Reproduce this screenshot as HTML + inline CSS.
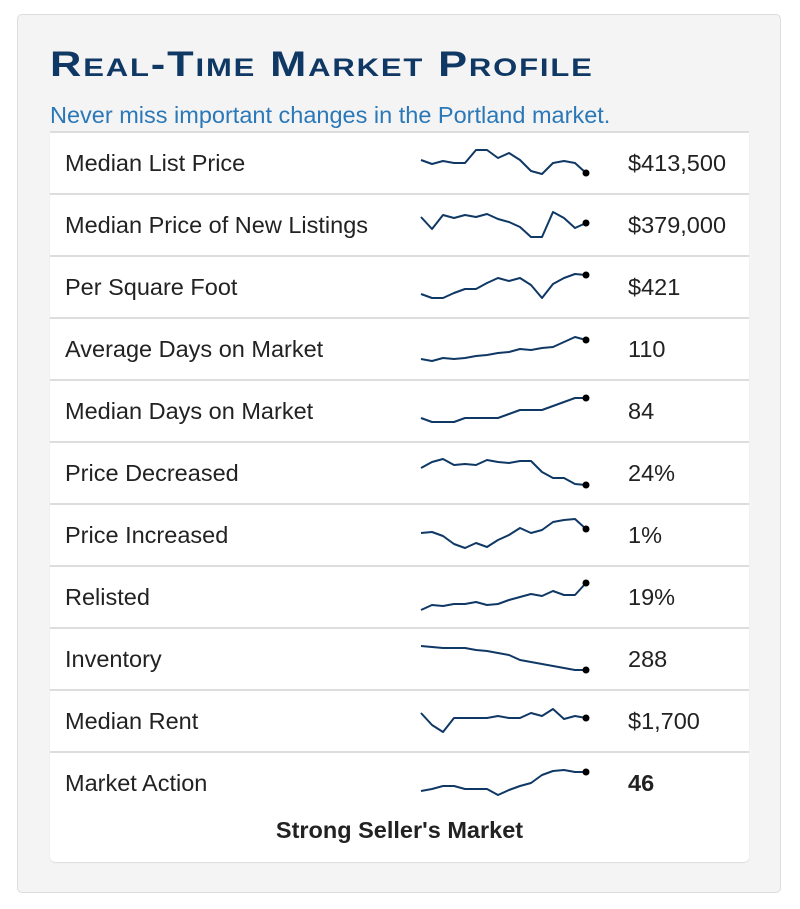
<!DOCTYPE html>
<html><head><meta charset="utf-8"><style>
body{margin:0;width:800px;height:909px;background:#fff;font-family:"Liberation Sans",sans-serif;position:relative;overflow:hidden}
.outer{position:absolute;left:17px;top:14px;width:764px;height:879px;background:#f4f4f4;border:1px solid #ddd;border-radius:5px;box-sizing:border-box}
.title{position:absolute;left:50px;top:45px;font-size:35px;font-weight:bold;color:#0f3865;font-variant:small-caps;letter-spacing:1.5px;line-height:40px;white-space:nowrap;transform:scaleX(1.24);transform-origin:0 0}
.sub{position:absolute;left:50px;top:101px;font-size:23.5px;color:#2b78b8;line-height:28px;white-space:nowrap}
.inner{position:absolute;left:50px;top:131px;width:699px;height:731px;background:#fff;border-radius:0 0 5px 5px;box-shadow:0 1px 1px #ddd}
.row{position:absolute;left:0;width:699px;height:62px;border-top:2px solid #ddd;box-sizing:border-box}
.lab{position:absolute;left:15px;top:16px;font-size:23.5px;color:#222;line-height:28px;white-space:nowrap}
.val{position:absolute;left:578px;top:16px;font-size:23.5px;color:#222;line-height:28px}
.foot{position:absolute;left:0;width:699px;top:685px;text-align:center;font-size:23.5px;font-weight:bold;color:#222;line-height:28px}
svg{position:absolute;left:0;top:0}
</style></head><body>
<div class="outer"></div>
<div class="title">Real-Time Market Profile</div>
<div class="sub">Never miss important changes in the Portland market.</div>
<div class="inner">
<div class="row" style="top:0"><div class="lab">Median List Price</div><div class="val">$413,500</div></div>
<div class="row" style="top:62px"><div class="lab">Median Price of New Listings</div><div class="val">$379,000</div></div>
<div class="row" style="top:124px"><div class="lab">Per Square Foot</div><div class="val">$421</div></div>
<div class="row" style="top:186px"><div class="lab">Average Days on Market</div><div class="val">110</div></div>
<div class="row" style="top:248px"><div class="lab">Median Days on Market</div><div class="val">84</div></div>
<div class="row" style="top:310px"><div class="lab">Price Decreased</div><div class="val">24%</div></div>
<div class="row" style="top:372px"><div class="lab">Price Increased</div><div class="val">1%</div></div>
<div class="row" style="top:434px"><div class="lab">Relisted</div><div class="val">19%</div></div>
<div class="row" style="top:496px"><div class="lab">Inventory</div><div class="val">288</div></div>
<div class="row" style="top:558px"><div class="lab">Median Rent</div><div class="val">$1,700</div></div>
<div class="row" style="top:620px"><div class="lab">Market Action</div><div class="val" style="font-weight:bold">46</div></div>
<div class="foot">Strong Seller's Market</div>
</div>
<svg width="800" height="909" fill="none" stroke="#0f3865" stroke-width="2" stroke-linejoin="round">
<g transform="translate(0,131)"><polyline points="421,29 432,33 443,30 454,32 465,32 476,19 487,19 498,27 509,22 520,29 531,40 542,43 553,32 564,30 575,32 586,42"/><circle cx="586" cy="42" r="3.5" fill="#000" stroke="none"/></g>
<g transform="translate(0,193)"><polyline points="421,24 432,36 443,22 454,25 465,22 476,24 487,21 498,26 509,29 520,34 531,44 542,44 553,19 564,25 575,35 586,30"/><circle cx="586" cy="30" r="3.5" fill="#000" stroke="none"/></g>
<g transform="translate(0,255)"><polyline points="421,39 432,43 443,43 454,38 465,34 476,34 487,28 498,23 509,26 520,23 531,30 542,43 553,29 564,23 575,19 586,20"/><circle cx="586" cy="20" r="3.5" fill="#000" stroke="none"/></g>
<g transform="translate(0,317)"><polyline points="421,42 432,44 443,41 454,42 465,41 476,39 487,38 498,36 509,35 520,32 531,33 542,31 553,30 564,25 575,20 586,23"/><circle cx="586" cy="23" r="3.5" fill="#000" stroke="none"/></g>
<g transform="translate(0,379)"><polyline points="421,39 432,43 443,43 454,43 465,39 476,39 487,39 498,39 509,35 520,31 531,31 542,31 553,27 564,23 575,19 586,19"/><circle cx="586" cy="19" r="3.5" fill="#000" stroke="none"/></g>
<g transform="translate(0,441)"><polyline points="421,27 432,21 443,18 454,24 465,23 476,24 487,19 498,21 509,22 520,20 531,20 542,31 553,37 564,37 575,43 586,44"/><circle cx="586" cy="44" r="3.5" fill="#000" stroke="none"/></g>
<g transform="translate(0,503)"><polyline points="421,30 432,29 443,33 454,41 465,45 476,40 487,44 498,37 509,32 520,25 531,30 542,27 553,19 564,17 575,16 586,26"/><circle cx="586" cy="26" r="3.5" fill="#000" stroke="none"/></g>
<g transform="translate(0,565)"><polyline points="421,45 432,40 443,41 454,39 465,39 476,37 487,40 498,39 509,35 520,32 531,29 542,31 553,26 564,30 575,30 586,18"/><circle cx="586" cy="18" r="3.5" fill="#000" stroke="none"/></g>
<g transform="translate(0,627)"><polyline points="421,19 432,20 443,21 454,21 465,21 476,23 487,24 498,26 509,28 520,33 531,35 542,37 553,39 564,41 575,43 586,43"/><circle cx="586" cy="43" r="3.5" fill="#000" stroke="none"/></g>
<g transform="translate(0,689)"><polyline points="421,24 432,36 443,43 454,29 465,29 476,29 487,29 498,27 509,29 520,29 531,24 542,27 553,20 564,30 575,27 586,29"/><circle cx="586" cy="29" r="3.5" fill="#000" stroke="none"/></g>
<g transform="translate(0,751)"><polyline points="421,40 432,38 443,35 454,35 465,38 476,38 487,38 498,44 509,39 520,35 531,32 542,24 553,20 564,19 575,21 586,21"/><circle cx="586" cy="21" r="3.5" fill="#000" stroke="none"/></g>
</svg>
</body></html>
